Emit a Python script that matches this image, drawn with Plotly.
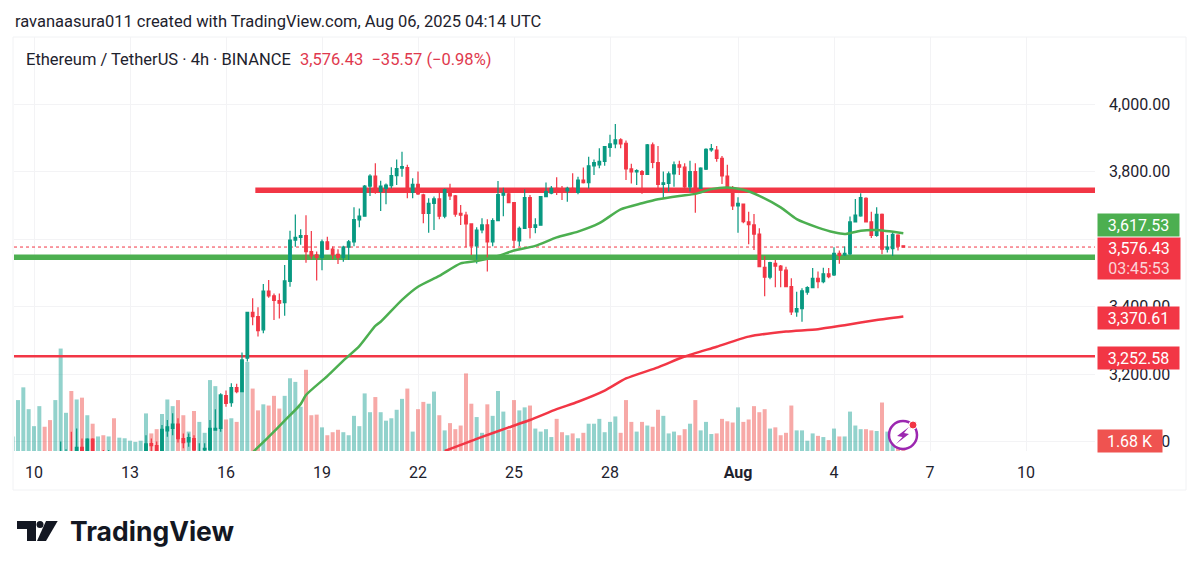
# ETH/USDT 4h chart with moving averages, levels and volume
import pandas as pd
import plotly.graph_objects as go

W, H = 1200, 573

# bars start Jul 9 08:00, one every 4 hours
bar_start = pd.Timestamp("2025-07-09 08:00")
opens = [2610, 2620, 2635, 2650, 2665, 2690, 2720, 2710, 2700, 2780, 2950, 2955,
         2950, 2983, 2960, 3007, 2940, 2955, 2950, 2960, 2940, 2950, 2955, 2940, 2950,
         2960, 2994, 2988, 2960, 3032, 3039, 3052, 3009, 2999, 3009, 2965, 2975, 2976,
         3034, 3039, 3136, 3115, 3160, 3148, 3247, 3383, 3370, 3331, 3446, 3432, 3418,
         3412, 3475, 3597, 3605, 3610, 3563, 3553, 3546, 3592, 3570, 3555, 3546, 3576,
         3592, 3657, 3668, 3757, 3787, 3741, 3750, 3758, 3788, 3810, 3812, 3738, 3762,
         3731, 3676, 3706, 3719, 3668, 3747, 3728, 3676, 3671, 3645, 3580, 3627, 3642,
         3592, 3655, 3730, 3734, 3708, 3595, 3632, 3723, 3635, 3641, 3726, 3736, 3750,
         3749, 3743, 3750, 3738, 3775, 3767, 3817, 3820, 3830, 3872, 3882, 3894, 3884,
         3808, 3799, 3800, 3792, 3879, 3827, 3762, 3765, 3793, 3820, 3813, 3755, 3800,
         3750, 3807, 3864, 3864, 3839, 3787, 3744, 3698, 3704, 3651, 3642, 3615, 3516,
         3487, 3528, 3520, 3508, 3459, 3384, 3394, 3443, 3456, 3484, 3474, 3497, 3494,
         3558, 3553, 3556, 3651, 3669, 3721, 3651, 3611, 3673, 3570, 3572, 3612, 3580]
highs = [2625, 2640, 2660, 2675, 2700, 2730, 2725, 2715, 2790, 3000, 2977, 3029,
         3039, 3009, 3010, 3010, 2965, 2975, 2975, 2968, 2955, 2960, 2965, 2960, 2965,
         3019, 3009, 3000, 3049, 3064, 3084, 3069, 3024, 3024, 3019, 2995, 2995, 3064,
         3096, 3143, 3151, 3173, 3171, 3264, 3385, 3425, 3398, 3467, 3479, 3439, 3439,
         3523, 3625, 3673, 3629, 3671, 3624, 3563, 3599, 3607, 3578, 3570, 3580, 3597,
         3694, 3691, 3760, 3792, 3825, 3773, 3765, 3813, 3836, 3859, 3820, 3780, 3800,
         3734, 3721, 3726, 3750, 3750, 3764, 3731, 3701, 3681, 3644, 3635, 3662, 3659,
         3662, 3772, 3752, 3750, 3708, 3637, 3748, 3731, 3662, 3728, 3768, 3757, 3783,
         3757, 3755, 3795, 3785, 3812, 3844, 3836, 3869, 3874, 3909, 3941, 3899, 3892,
         3823, 3807, 3805, 3882, 3886, 3876, 3800, 3800, 3830, 3832, 3825, 3832, 3825,
         3813, 3869, 3882, 3876, 3846, 3820, 3757, 3724, 3704, 3681, 3674, 3632, 3550,
         3533, 3538, 3523, 3518, 3484, 3444, 3454, 3460, 3514, 3504, 3515, 3514, 3576,
         3566, 3578, 3667, 3719, 3736, 3724, 3681, 3694, 3676, 3612, 3622, 3614, 3582]
lows = [2600, 2610, 2630, 2640, 2655, 2680, 2700, 2690, 2695, 2770, 2900, 2945,
        2945, 2955, 2950, 2955, 2930, 2945, 2940, 2930, 2925, 2935, 2940, 2930, 2945,
        2955, 2970, 2955, 2955, 3014, 3019, 2997, 2980, 2985, 2965, 2960, 2972, 2970,
        3032, 3029, 3103, 3103, 3143, 3148, 3237, 3345, 3311, 3321, 3426, 3360, 3365,
        3373, 3459, 3577, 3583, 3530, 3540, 3477, 3508, 3568, 3540, 3526, 3533, 3538,
        3579, 3635, 3667, 3728, 3734, 3683, 3703, 3750, 3760, 3785, 3721, 3721, 3731,
        3647, 3619, 3627, 3659, 3662, 3716, 3666, 3642, 3576, 3553, 3528, 3617, 3504,
        3579, 3655, 3668, 3708, 3573, 3579, 3632, 3602, 3617, 3641, 3724, 3733, 3731,
        3716, 3711, 3743, 3733, 3765, 3750, 3790, 3810, 3817, 3844, 3869, 3869, 3775,
        3765, 3760, 3734, 3790, 3810, 3750, 3721, 3741, 3755, 3790, 3750, 3741, 3678,
        3750, 3805, 3859, 3829, 3763, 3741, 3686, 3619, 3647, 3585, 3568, 3518, 3431,
        3481, 3457, 3457, 3457, 3375, 3370, 3355, 3435, 3454, 3454, 3469, 3484, 3491,
        3527, 3550, 3553, 3649, 3666, 3651, 3603, 3607, 3555, 3560, 3550, 3566, 3575]
closes = [2620, 2635, 2650, 2665, 2690, 2720, 2710, 2700, 2780, 2950, 2955, 2950,
          2983, 2960, 3007, 2960, 2955, 2950, 2960, 2940, 2950, 2955, 2960, 2950, 2960,
          2993, 2988, 2960, 3036, 3044, 3052, 3009, 2997, 3012, 2975, 2970, 2980, 3039,
          3039, 3138, 3113, 3160, 3148, 3242, 3383, 3370, 3329, 3446, 3432, 3418, 3410,
          3476, 3597, 3605, 3610, 3563, 3550, 3546, 3592, 3570, 3553, 3546, 3576, 3592,
          3658, 3668, 3757, 3787, 3741, 3757, 3760, 3788, 3809, 3815, 3750, 3762, 3734,
          3676, 3706, 3719, 3668, 3747, 3728, 3674, 3671, 3645, 3580, 3627, 3642, 3592,
          3655, 3732, 3736, 3708, 3597, 3632, 3723, 3635, 3642, 3726, 3741, 3750, 3743,
          3743, 3750, 3743, 3775, 3767, 3817, 3827, 3830, 3874, 3882, 3894, 3882, 3808,
          3799, 3803, 3792, 3879, 3827, 3762, 3767, 3793, 3820, 3813, 3755, 3800, 3750,
          3810, 3866, 3868, 3839, 3787, 3750, 3698, 3706, 3652, 3643, 3615, 3518, 3487,
          3530, 3520, 3508, 3459, 3384, 3394, 3447, 3456, 3484, 3474, 3497, 3489, 3558,
          3552, 3558, 3651, 3671, 3723, 3651, 3611, 3673, 3570, 3576, 3614, 3579, 3576.43]
volumes = [24, 84, 105, 69, 41, 74, 40, 51, 84, 169, 63, 99,
           85, 88, 59, 45, 24, 26, 24, 54, 22, 21, 17, 15, 17,
           62, 29, 36, 61, 85, 74, 84, 59, 32, 66, 48, 30, 117,
           107, 94, 52, 54, 48, 98, 147, 103, 67, 77, 75, 91, 70,
           91, 120, 114, 73, 134, 59, 60, 39, 26, 31, 35, 31, 26,
           58, 41, 95, 64, 89, 64, 50, 54, 68, 86, 103, 32, 69,
           81, 78, 98, 59, 34, 46, 36, 42, 128, 78, 56, 30, 77,
           58, 99, 65, 35, 84, 67, 72, 75, 37, 32, 36, 23, 53,
           31, 26, 29, 21, 30, 45, 45, 53, 31, 48, 57, 30, 84,
           48, 32, 48, 42, 40, 68, 58, 29, 32, 26, 36, 45, 84,
           34, 48, 28, 29, 53, 49, 47, 72, 48, 52, 74, 64, 69,
           37, 39, 26, 30, 75, 34, 34, 17, 29, 25, 23, 18, 37,
           24, 24, 65, 42, 36, 36, 34, 33, 80, 32, 15, 7, 1.68]

# moving averages, read at some bars (bars counted from Jul 10 00:00)
ma50_bars = [41, 44, 47, 50, 51, 55, 58, 61, 64, 65, 69, 72, 76, 80, 83, 87, 90, 94, 98,
             102, 106, 110, 114, 117, 121, 124, 127, 130, 133, 136, 140, 143, 147, 150,
             152, 155, 158, 163]
ma50_vals = [2968, 3014, 3062, 3111, 3138, 3194, 3240, 3283, 3343, 3355, 3420, 3459, 3491,
             3528, 3535, 3550, 3566, 3580, 3605, 3622, 3647, 3688, 3706, 3718, 3728, 3734,
             3748, 3753, 3746, 3728, 3694, 3659, 3634, 3620, 3615, 3625, 3627, 3617.53]
ma200_bars = [77, 84, 89, 93, 98, 102, 107, 111, 117, 122, 128, 134, 141, 147, 152, 158, 163]
ma200_vals = [2972, 3014, 3042, 3064, 3096, 3118, 3151, 3187, 3220, 3252, 3281, 3311, 3326,
              3333, 3345, 3360, 3370.61]

# horizontal levels
resistance = 3744.6
support = 3546
lower_level = 3252.58
last_price = 3576.43
resistance_start = "2025-07-16 22:00"
axis_start = "2025-07-09 09:00"
axis_end = "2025-08-12 03:45"

tick_dates = ["2025-07-10", "2025-07-13", "2025-07-16", "2025-07-19", "2025-07-22",
              "2025-07-25", "2025-07-28", "2025-08-01", "2025-08-04", "2025-08-07", "2025-08-10"]
tick_text = ["10", "13", "16", "19", "22", "25", "28", "<b>Aug</b>", "4", "7", "10"]
price_ticks = [3000, 3200, 3400, 3600, 3800, 4000]
price_tick_text = ["3,000.00", "3,200.00", "3,400.00", "", "3,800.00", "4,000.00"]

UP, DOWN = "#089981", "#F23645"
MA_GREEN = "#4CAF50"
GRID = "#F3F3F5"
FONT = "Roboto"
INK = "#1E222D"

dates = pd.date_range(bar_start, periods=len(closes), freq="4h")
jul10 = pd.Timestamp("2025-07-10")
ma50_x = [jul10 + pd.Timedelta(hours=4 * b) for b in ma50_bars]
ma200_x = [jul10 + pd.Timedelta(hours=4 * b) for b in ma200_bars]
vol_colors = ["rgba(38,166,154,0.5)" if c >= o else "rgba(239,83,80,0.5)" for o, c in zip(opens, closes)]

PRICE_RANGE = [2972.1, 4198.8]
VOL_RANGE = [0, 683]


def px(x):
    return x / W


def py(y):
    return 1 - y / H


fig = go.Figure()

fig.add_trace(go.Bar(x=dates, y=volumes, marker_color=vol_colors, marker_line_width=0,
                     width=3.0 * 3600 * 1000, yaxis="y"))

# levels sit on their own overlay so candles stay on top and volume below
all_x = [axis_start, axis_end]
fig.add_trace(go.Scatter(x=all_x, y=[last_price, last_price], mode="lines", yaxis="y2",
                         line=dict(color=DOWN, width=1, dash="dot")))
fig.add_trace(go.Scatter(x=all_x, y=[support, support], mode="lines", yaxis="y2",
                         line=dict(color=MA_GREEN, width=5.5)))
fig.add_trace(go.Scatter(x=[resistance_start, axis_end], y=[resistance, resistance], mode="lines", yaxis="y2",
                         line=dict(color=DOWN, width=5.5)))
fig.add_trace(go.Scatter(x=all_x, y=[lower_level, lower_level], mode="lines", yaxis="y2",
                         line=dict(color=DOWN, width=2.5)))

fig.add_trace(go.Candlestick(x=dates, open=opens, high=highs, low=lows, close=closes, yaxis="y3",
                             increasing=dict(line=dict(color=UP, width=1.2), fillcolor=UP),
                             decreasing=dict(line=dict(color=DOWN, width=1.2), fillcolor=DOWN)))
fig.add_trace(go.Scatter(x=ma50_x, y=ma50_vals, mode="lines", yaxis="y3",
                         line=dict(color=MA_GREEN, width=2.5, shape="spline", smoothing=0.6)))
fig.add_trace(go.Scatter(x=ma200_x, y=ma200_vals, mode="lines", yaxis="y3",
                         line=dict(color=DOWN, width=2.5, shape="spline", smoothing=0.6)))


def text(x, y, s, size=16.5, color=INK, anchor="left", family=FONT):
    fig.add_annotation(xref="paper", yref="paper", x=px(x), y=py(y), text=s, showarrow=False,
                       xanchor=anchor, yanchor="middle", align=anchor, borderpad=0,
                       font=dict(family=family, size=size, color=color))


def tag(x0, x1, y0, y1, s, color):
    fig.add_annotation(xref="paper", yref="paper", x=px(x0), y=py(y0), text=s, showarrow=False,
                       xanchor="left", yanchor="top", width=x1 - x0, height=y1 - y0, align="center",
                       valign="middle", bgcolor=color, borderpad=0,
                       font=dict(family=FONT, size=16, color="white"))


text(14, 22, "ravanaasura011 created with TradingView.com, Aug 06, 2025 04:14 UTC")
text(25, 59, "Ethereum / TetherUS · 4h · BINANCE")
text(299, 59, "3,576.43  −35.57 (−0.98%)", color="#E0394E")

tag(1097, 1178, 213, 235, "3,617.53", MA_GREEN)
tag(1097, 1179, 237, 278, '3,576.43<br><span style="color:#FBD3D7">03:45:53</span>', DOWN)
tag(1097, 1178, 306, 328, "3,370.61", DOWN)
tag(1097, 1178, 346, 368, "3,252.58", DOWN)
tag(1097, 1161, 429, 451, "1.68 K", "#EF5350")

# TradingView wordmark
text(69, 531, "<b>TradingView</b>", size=26.5, color="#131722", family="Inter")


def paper_path(points):
    return "M " + " L ".join(f"{px(x):.5f},{py(y):.5f}" for x, y in points) + " Z"


shapes = [
    dict(type="rect", xref="paper", yref="paper", x0=px(13), x1=px(1186), y0=py(490), y1=py(37),
         line=dict(color="#F1F2F4", width=1), layer="below"),
    dict(type="path", xref="paper", yref="paper", fillcolor="#131722", line_width=0,
         path=paper_path([(17, 521), (36, 521), (36, 541), (27, 541), (27, 529), (17, 529)])),
    dict(type="circle", xref="paper", yref="paper", fillcolor="#131722", line_width=0,
         x0=px(36.5), x1=px(43.5), y0=py(528), y1=py(521)),
    dict(type="path", xref="paper", yref="paper", fillcolor="#131722", line_width=0,
         path=paper_path([(46, 521), (57.7, 521), (46, 541), (37, 541)])),
    # lightning badge over the last volume bars
    dict(type="circle", xref="paper", yref="paper", fillcolor="white", line=dict(color="#9C27B0", width=2.5),
         x0=px(889), x1=px(917), y0=py(449), y1=py(421)),
    dict(type="path", xref="paper", yref="paper", fillcolor="#9C27B0", line_width=0,
         path=paper_path([(909, 427), (897, 436), (902.5, 437), (896, 444), (909, 434), (904, 433)])),
    dict(type="circle", xref="paper", yref="paper", fillcolor=DOWN, line=dict(color="white", width=1),
         x0=px(909), x1=px(917), y0=py(429), y1=py(421)),
]

y_domain = [py(451), py(37)]
fig.update_layout(
    width=W, height=H, margin=dict(l=0, r=0, t=0, b=0), autosize=False,
    paper_bgcolor="white", plot_bgcolor="white", showlegend=False, shapes=shapes, hovermode=False,
    font=dict(family=FONT, size=16, color=INK),
    xaxis=dict(domain=[px(14), px(1095)], range=[axis_start, axis_end], type="date",
               tickmode="array", tickvals=tick_dates, ticktext=tick_text, ticks="",
               ticklabelstandoff=10, showgrid=True, gridcolor=GRID, gridwidth=1,
               zeroline=False, showline=False, rangeslider=dict(visible=False),
               tickfont=dict(family=FONT, size=16, color=INK)),
    yaxis=dict(domain=y_domain, range=VOL_RANGE, showticklabels=False, showgrid=False, zeroline=False),
    yaxis2=dict(domain=y_domain, range=PRICE_RANGE, overlaying="y", showticklabels=False,
                showgrid=False, zeroline=False),
    yaxis3=dict(domain=y_domain, range=PRICE_RANGE, overlaying="y", side="right", anchor="x",
                tickmode="array", tickvals=price_ticks, ticktext=price_tick_text, ticks="",
                ticklabelstandoff=13, showgrid=True, gridcolor=GRID, gridwidth=1, zeroline=False,
                tickfont=dict(family=FONT, size=16, color=INK)),
)

# the page's default body margin would push the chart 8px off the window corner
fig.write_html("out.html", config={"displayModeBar": False}, post_script="document.body.style.margin='0';")
